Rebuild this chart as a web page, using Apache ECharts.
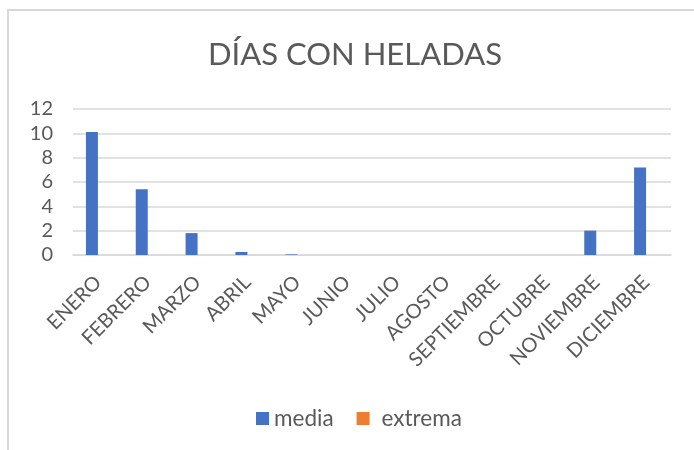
<!DOCTYPE html>
<html>
<head>
<meta charset="utf-8">
<script src="https://cdn.jsdelivr.net/npm/echarts@6/dist/echarts.min.js"></script>
<style>
html,body{margin:0;padding:0;background:#fff;}
#chart{width:694px;height:450px;}
</style>
</head>
<body>
<div id="chart"></div>
<script>
const months = ['ENERO','FEBRERO','MARZO','ABRIL','MAYO','JUNIO','JULIO','AGOSTO','SEPTIEMBRE','OCTUBRE','NOVIEMBRE','DICIEMBRE'];
const media = [10.1, 5.4, 1.8, 0.25, 0.05, 0, 0, 0, 0, 0, 2.0, 7.2];
const extrema = [0, 0, 0, 0, 0, 0, 0, 0, 0, 0, 0, 0];
const yTicks = [0, 2, 4, 6, 8, 10, 12];

const FONT = 'Lato';
const GREY = '#595959';
const chart = echarts.init(document.getElementById('chart'), null, {renderer: 'canvas'});
chart.setOption({
  animation: false,
  backgroundColor: '#fff',
  textStyle: {fontFamily: FONT},
  graphic: [{
    type: 'polyline',
    shape: {points: [[8, 452], [8, 10], [700, 10]]},
    style: {stroke: '#d9d9d9', lineWidth: 2, fill: null},
    silent: true
  }],
  title: {
    text: 'DÍAS CON HELADAS',
    left: 208,
    top: 39,
    padding: 0,
    textStyle: {fontFamily: FONT, fontSize: 31, fontWeight: 'normal', color: GREY}
  },
  legend: {
    left: 256,
    top: 407,
    padding: 0,
    itemWidth: 13,
    itemHeight: 13,
    itemGap: 23,
    icon: 'rect',
    formatter: function (name) { return name === 'extrema' ? '{p|}' + name : name; },
    textStyle: {fontFamily: FONT, fontSize: 22.5, color: GREY, rich: {p: {width: 7}}},
    data: ['media', 'extrema']
  },
  grid: {left: 73, right: 23, top: 109, bottom: 195, containLabel: false},
  xAxis: {
    type: 'category',
    data: months,
    axisLine: {show: true, lineStyle: {color: '#d9d9d9', width: 1.5}},
    axisTick: {show: false},
    axisLabel: {rotate: 45, interval: 0, margin: 24, fontFamily: FONT, fontSize: 20, color: GREY}
  },
  yAxis: {
    type: 'value',
    min: yTicks[0],
    max: yTicks[yTicks.length - 1],
    interval: 2,
    axisLine: {show: false},
    axisTick: {show: false},
    splitLine: {lineStyle: {color: '#d9d9d9', width: 1.5}},
    axisLabel: {margin: 20, fontFamily: FONT, fontSize: 20, color: GREY}
  },
  series: [
    {name: 'media', type: 'bar', data: media, barWidth: 12, barGap: '0%', itemStyle: {color: '#4472C4'}},
    {name: 'extrema', type: 'bar', data: extrema, barWidth: 12, barGap: '0%', itemStyle: {color: '#ED7D31'}}
  ]
});
</script>
</body>
</html>
